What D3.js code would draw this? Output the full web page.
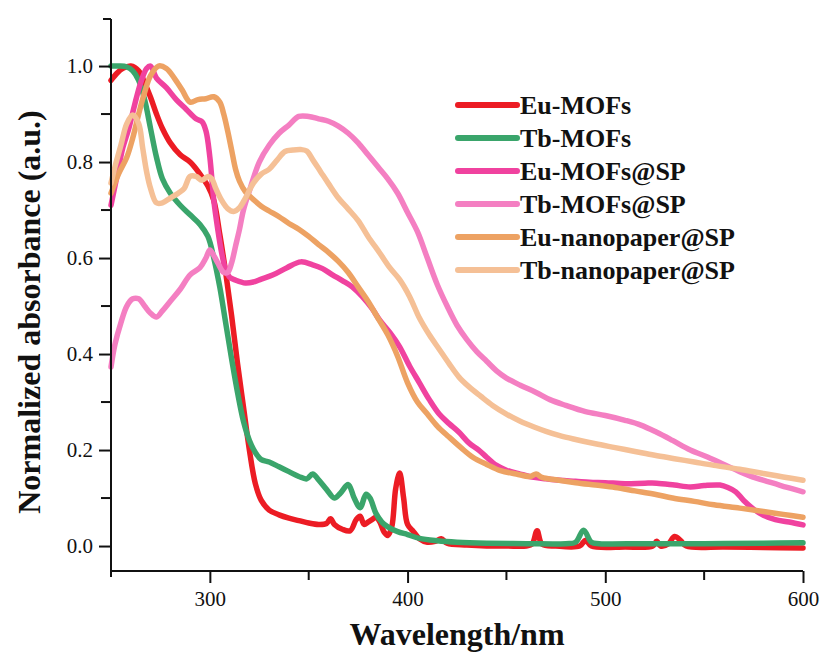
<!DOCTYPE html>
<html>
<head>
<meta charset="utf-8">
<script src="https://cdn.jsdelivr.net/npm/d3@7"></script>
<style>
  body { margin: 0; background: #fff; }
  .axis text { font-family: "Liberation Serif", "Times New Roman", serif; font-size: 21px; fill: #111; }
  .axis line, .axis path { stroke: #111; stroke-width: 2; }
  .title { font-family: "Liberation Serif", "Times New Roman", serif; font-weight: bold; fill: #111; }
</style>
</head>
<body>
<div id="chart"></div>
<script>
// series names and colours, in legend order
var names = ["Eu-MOFs", "Tb-MOFs", "Eu-MOFs@SP", "Tb-MOFs@SP", "Eu-nanopaper@SP", "Tb-nanopaper@SP"];
var colors = ["#ec1c24", "#3aa56b", "#f0429f", "#f47fc2", "#eda263", "#f5c096"];

// x tick labels
var xTicks = [300, 400, 500, 600];
var xMinor = [350, 450, 550];
var yTicks = [0, 0.2, 0.4, 0.6, 0.8, 1.0];
var yMinor = [0.1, 0.3, 0.5, 0.7, 0.9];

// wavelength (nm) / normalized absorbance
var euMofsWl = [250,253,256,260,264,267,270,273,276,280,285,290,295,299,302,305,308,311,314,317,320,323,326,330,335,340,345,350,355,359,361,363,367,371,374,376,378,380,382,384,386,388,390,392,394,396,398,400,403,406,410,414,417,420,430,440,450,460,463,465.5,468,475,487,490,493,510,524,526,528,532,535,538,541,560,580,600];
var euMofsAbs = [0.97,0.985,0.995,1.0,0.99,0.965,0.935,0.9,0.87,0.84,0.815,0.8,0.775,0.75,0.72,0.65,0.57,0.48,0.38,0.29,0.2,0.13,0.095,0.075,0.065,0.058,0.053,0.048,0.045,0.047,0.057,0.045,0.035,0.032,0.055,0.062,0.045,0.05,0.055,0.06,0.05,0.03,0.022,0.04,0.12,0.152,0.1,0.045,0.03,0.015,0.008,0.01,0.015,0.006,0.002,0,0,0,0.004,0.032,0.004,0,0,0.012,0,-0.002,0,0.01,0,0.005,0.02,0.012,0,-0.002,-0.003,-0.004];

var tbMofsWl = [250,254,258,261,264,267,270,273,276,280,285,290,295,299,302,305,308,311,314,317,320,323,326,330,335,340,345,349,352,355,359,363,366,370,373,376,379,381,384,387,390,395,400,406,415,425,440,460,480,485,489,493,497,520,550,580,600];
var tbMofsAbs = [1.0,1.0,0.998,0.99,0.97,0.93,0.87,0.81,0.765,0.735,0.71,0.69,0.67,0.645,0.6,0.54,0.465,0.39,0.32,0.26,0.22,0.195,0.18,0.175,0.165,0.155,0.145,0.14,0.15,0.138,0.118,0.1,0.11,0.128,0.1,0.08,0.108,0.1,0.068,0.05,0.04,0.03,0.024,0.016,0.011,0.008,0.006,0.005,0.005,0.008,0.033,0.008,0.005,0.005,0.005,0.006,0.007];

var euSpWl = [250,253,256,259,262,265,268,270,273,278,283,288,293,296,298,300,302,304,306,308,310,313,318,322,326,332,339,346,352,357,362,367,372,377,382,386,391,396,401,406,411,416,421,426,431,436,440,445,450,457,464,470,477,485,492,500,510,520,526,535,543,550,558,562,566,570,575,580,586,593,600];
var euSpAbs = [0.71,0.77,0.83,0.87,0.92,0.965,0.995,1.0,0.975,0.955,0.93,0.91,0.89,0.884,0.865,0.81,0.72,0.66,0.61,0.575,0.56,0.554,0.548,0.55,0.556,0.565,0.58,0.592,0.586,0.578,0.565,0.553,0.54,0.52,0.495,0.47,0.445,0.415,0.375,0.34,0.305,0.275,0.255,0.237,0.215,0.2,0.185,0.168,0.158,0.15,0.143,0.14,0.137,0.135,0.133,0.132,0.13,0.131,0.131,0.127,0.123,0.126,0.127,0.122,0.113,0.095,0.077,0.064,0.055,0.05,0.044];

var tbSpWl = [250,252,255,258,261,264,267,270,273,276,280,285,290,295,298,300,302,304,307,309,311,313,315,317,320,325,330,335,340,345,350,355,360,365,370,375,380,385,390,395,400,405,410,415,420,425,430,435,440,445,450,457,465,472,480,490,500,510,518,526,534,543,552,560,568,576,585,592,600];
var tbSpAbs = [0.373,0.42,0.465,0.5,0.515,0.515,0.5,0.485,0.477,0.49,0.51,0.535,0.565,0.58,0.6,0.617,0.605,0.59,0.57,0.57,0.59,0.625,0.66,0.7,0.74,0.8,0.835,0.86,0.877,0.895,0.895,0.89,0.885,0.875,0.86,0.84,0.815,0.79,0.765,0.735,0.695,0.655,0.6,0.545,0.5,0.46,0.43,0.405,0.385,0.365,0.35,0.335,0.32,0.305,0.293,0.28,0.272,0.262,0.252,0.237,0.22,0.2,0.185,0.17,0.155,0.142,0.131,0.122,0.113];

var euNanoWl = [250,254,258,261,264,267,270,274,278,282,286,290,294,298,302,305,307,309,311,313,315,318,322,326,330,335,340,345,350,355,360,365,370,375,380,385,390,395,400,405,410,415,421,427,433,440,447,455,462,465,468,475,485,495,505,515,525,534,545,555,568,580,590,600];
var euNanoAbs = [0.735,0.777,0.81,0.85,0.9,0.945,0.98,1.0,0.995,0.975,0.95,0.925,0.93,0.932,0.936,0.925,0.9,0.865,0.825,0.785,0.76,0.738,0.722,0.708,0.698,0.686,0.672,0.66,0.645,0.628,0.612,0.593,0.57,0.54,0.51,0.475,0.44,0.395,0.34,0.3,0.275,0.25,0.227,0.205,0.185,0.17,0.157,0.15,0.145,0.15,0.143,0.138,0.132,0.127,0.122,0.115,0.108,0.1,0.093,0.086,0.079,0.072,0.066,0.06];

var tbNanoWl = [250,252,255,258,261,264,266,268,270,273,276,280,284,287,290,293,296,299,301,303,306,309,312,315,318,322,326,330,334,338,342,346,349,352,356,360,365,370,375,380,386,391,396,401,406,411,416,421,426,431,437,443,450,457,464,470,477,485,495,505,515,525,535,545,555,568,580,590,600];
var tbNanoAbs = [0.756,0.79,0.835,0.88,0.898,0.88,0.83,0.78,0.745,0.715,0.715,0.725,0.735,0.745,0.77,0.77,0.762,0.77,0.765,0.745,0.72,0.703,0.697,0.705,0.725,0.756,0.775,0.785,0.804,0.822,0.825,0.826,0.823,0.805,0.78,0.755,0.725,0.702,0.678,0.645,0.61,0.58,0.555,0.52,0.475,0.44,0.41,0.38,0.352,0.332,0.312,0.293,0.275,0.26,0.248,0.239,0.23,0.222,0.213,0.205,0.197,0.189,0.182,0.175,0.168,0.16,0.151,0.144,0.137];

var seriesWl = [euMofsWl, tbMofsWl, euSpWl, tbSpWl, euNanoWl, tbNanoWl];
var seriesAbs = [euMofsAbs, tbMofsAbs, euSpAbs, tbSpAbs, euNanoAbs, tbNanoAbs];

var W = 826, H = 655;

var svg = d3.select("#chart")
  .append("svg")
    .attr("width", W)
    .attr("height", H);

var x = d3.scaleLinear()
  .domain([250, 600])
  .range([111, 803]);

var y = d3.scaleLinear()
  .domain([-0.052, 1.098])
  .range([571, 19]);

// curves
var line = d3.line()
  .x(function(d) { return x(d[0]); })
  .y(function(d) { return y(d[1]); })
  .curve(d3.curveCatmullRom.alpha(0.5));

svg.append("g")
  .selectAll("path")
  .data(names)
  .enter()
  .append("path")
    .attr("d", function(d, i) {
      return line(seriesWl[i].map(function(w, j) { return [w, seriesAbs[i][j]]; }));
    })
    .attr("fill", "none")
    .attr("stroke", function(d, i) { return colors[i]; })
    .attr("stroke-width", 5.5)
    .attr("stroke-linejoin", "round")
    .attr("stroke-linecap", "round");

// x axis
var xAxis = svg.append("g")
  .attr("class", "axis")
  .attr("transform", "translate(0," + y(-0.052) + ")")
  .call(d3.axisBottom(x).tickValues(xTicks).tickSize(12).tickSizeOuter(0).tickPadding(8));
xAxis.select(".domain").remove();
xAxis.selectAll(".minor")
  .data(xMinor)
  .enter()
  .append("line")
    .attr("class", "minor")
    .attr("x1", function(d) { return x(d); })
    .attr("x2", function(d) { return x(d); })
    .attr("y1", 0)
    .attr("y2", 9);
xAxis.append("line")
  .attr("x1", x(250))
  .attr("x2", x(600))
  .attr("y1", 0)
  .attr("y2", 0);

// y axis
var yAxis = svg.append("g")
  .attr("class", "axis")
  .attr("transform", "translate(" + x(250) + ",0)")
  .call(d3.axisLeft(y).tickValues(yTicks).tickFormat(d3.format(".1f")).tickSize(12).tickSizeOuter(0).tickPadding(6));
yAxis.select(".domain").remove();
yAxis.selectAll(".minor")
  .data(yMinor)
  .enter()
  .append("line")
    .attr("class", "minor")
    .attr("x1", 0)
    .attr("x2", -10)
    .attr("y1", function(d) { return y(d); })
    .attr("y2", function(d) { return y(d); });
yAxis.append("line")
  .attr("x1", 0).attr("x2", 0)
  .attr("y1", y(1.098))
  .attr("y2", y(-0.052) + 6);
yAxis.append("line")
  .attr("x1", 0).attr("x2", -8)
  .attr("y1", y(1.098))
  .attr("y2", y(1.098));

// titles
svg.append("text")
  .attr("class", "title")
  .attr("x", 457)
  .attr("y", 645)
  .attr("text-anchor", "middle")
  .style("font-size", "32px")
  .text("Wavelength/nm");

svg.append("text")
  .attr("class", "title")
  .attr("transform", "translate(40,312) rotate(-90)")
  .attr("text-anchor", "middle")
  .style("font-size", "32px")
  .text("Normalized absorbance (a.u.)");

// legend
var legend = svg.append("g")
  .selectAll("g")
  .data(names)
  .enter()
  .append("g")
    .attr("transform", function(d, i) { return "translate(458," + (105 + i * 33) + ")"; });

legend.append("line")
  .attr("x1", 0)
  .attr("x2", 59)
  .attr("stroke", function(d, i) { return colors[i]; })
  .attr("stroke-width", 6)
  .attr("stroke-linecap", "round");

legend.append("text")
  .attr("class", "title")
  .attr("x", 62)
  .attr("dy", "0.35em")
  .style("font-size", "26px")
  .text(function(d) { return d; });
</script>
</body>
</html>
